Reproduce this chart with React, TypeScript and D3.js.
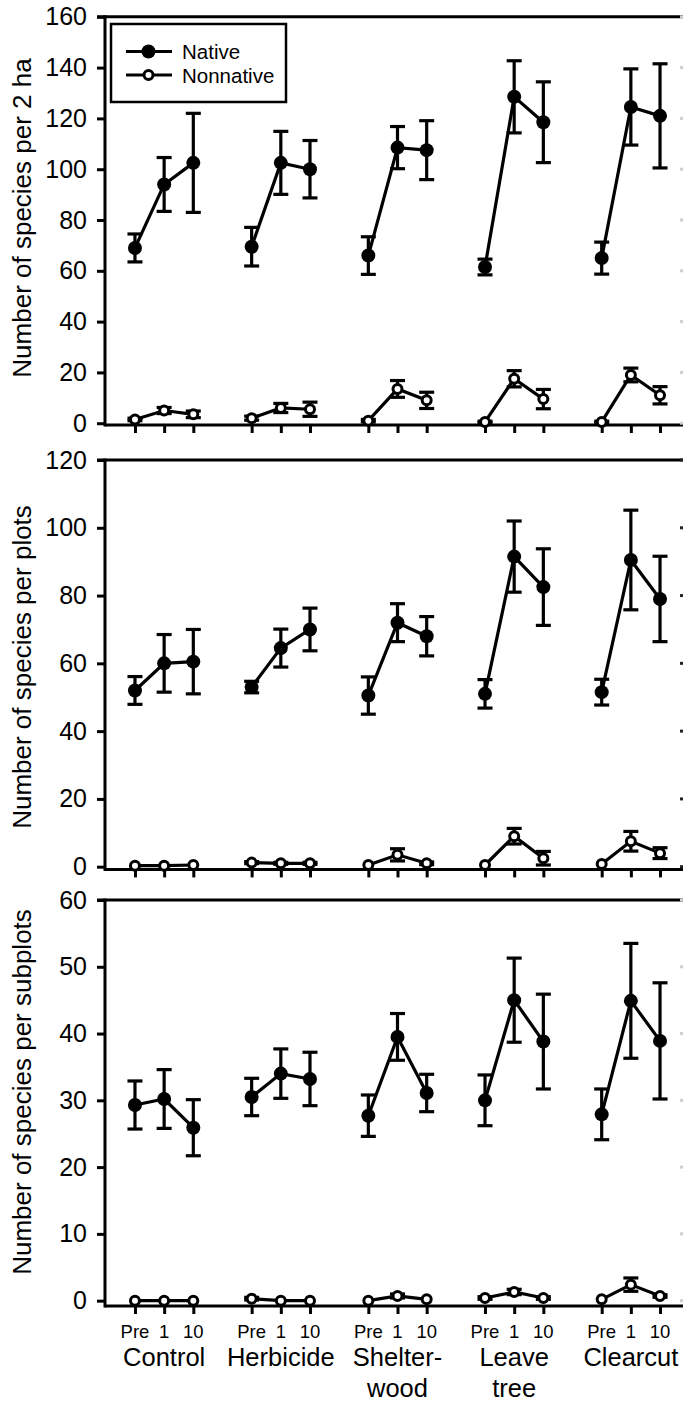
import React, { useEffect, useRef } from 'react';
import * as d3 from 'd3';

// treatments and sampling times
const groupLabels = [['Control'], ['Herbicide'], ['Shelter-', 'wood'], ['Leave', 'tree'], ['Clearcut']];
const timeLabels = ['Pre', '1', '10'];

// per 2 ha
const nativeHa = [69, 94, 102.5, 69.5, 102.5, 100, 66, 108.5, 107.5, 61.5, 128.5, 118.5, 65, 124.5, 121];
const nativeHaSe = [5.5, 10.6, 19.5, 7.6, 12.4, 11.3, 7.4, 8.3, 11.6, 3.1, 14.2, 15.9, 6.3, 15, 20.5];
const nonnativeHa = [1.5, 5, 3.5, 2, 6, 5.5, 1, 13.5, 9, 0.5, 17.5, 9.5, 0.5, 19, 11];
const nonnativeHaSe = [0.5, 1.2, 1.3, 0.8, 1.8, 2.8, 0.5, 3.3, 3.2, 0.3, 3.2, 3.8, 0.3, 2.7, 3.4];

// per plots
const nativePlot = [52, 60, 60.5, 53, 64.5, 70, 50.5, 72, 68, 51, 91.5, 82.5, 51.5, 90.5, 79];
const nativePlotSe = [4.1, 8.5, 9.5, 1.7, 5.6, 6.3, 5.5, 5.6, 5.8, 4.2, 10.5, 11.3, 3.8, 14.7, 12.6];
const nonnativePlot = [0.3, 0.3, 0.5, 1.2, 1, 1, 0.5, 3.5, 1, 0.5, 9, 2.5, 0.8, 7.5, 4];
const nonnativePlotSe = [0, 0, 0, 0.3, 0.3, 0.3, 0, 1.8, 0.4, 0, 2.3, 2, 0, 2.9, 1.6];

// per subplots
const nativeSub = [29.3, 30.2, 25.9, 30.5, 34, 33.2, 27.7, 39.5, 31.1, 30, 45, 38.8, 27.9, 44.9, 38.9];
const nativeSubSe = [3.6, 4.4, 4.2, 2.8, 3.7, 4, 3.1, 3.5, 2.8, 3.8, 6.3, 7.1, 3.8, 8.6, 8.7];
const nonnativeSub = [0, 0, 0, 0.3, 0, 0, 0, 0.7, 0.2, 0.4, 1.3, 0.4, 0.2, 2.4, 0.7];
const nonnativeSubSe = [0, 0, 0, 0.2, 0, 0, 0, 0.3, 0, 0.2, 0.4, 0.2, 0, 1, 0.2];

const ticksHa = [0, 20, 40, 60, 80, 100, 120, 140, 160];
const ticksPlot = [0, 20, 40, 60, 80, 100, 120];
const ticksSub = [0, 10, 20, 30, 40, 50, 60];

const App = () => {
    const svgRef = useRef(null);

    useEffect(() => {
        const svg = d3.select(svgRef.current);
        svg.selectAll('*').remove();

        const font = "'Liberation Sans', Arial, Helvetica, sans-serif";
        const axisX = 105;

        // slot index: 4 slots per treatment, 3 used
        const slots = d3.range(15).map(i => Math.floor(i / 3) * 4 + (i % 3));
        const x = d3.scaleLinear().domain([-1, 19]).range([105.8, 689.2]);

        const panels = [
            { top: 16.8, bottom: 425, domain: [-0.7, 160], ticks: ticksHa, title: 'Number of species per 2 ha', titleY: 218, edge: '#cfcfcf',
              native: nativeHa, nativeSe: nativeHaSe, non: nonnativeHa, nonSe: nonnativeHaSe },
            { top: 460, bottom: 869.4, domain: [-0.8, 120], ticks: ticksPlot, title: 'Number of species per plots', titleY: 667, edge: '#222',
              native: nativePlot, nativeSe: nativePlotSe, non: nonnativePlot, nonSe: nonnativePlotSe },
            { top: 900, bottom: 1306, domain: [-0.8, 60], ticks: ticksSub, title: 'Number of species per subplots', titleY: 1092, edge: '#cfcfcf',
              native: nativeSub, nativeSe: nativeSubSe, non: nonnativeSub, nonSe: nonnativeSubSe }
        ];

        panels.forEach(p => {
            const y = d3.scaleLinear().domain(p.domain).range([p.bottom, p.top]);
            const g = svg.append('g');

            // frame
            g.append('line').attr('x1', axisX - 8).attr('x2', 690).attr('y1', y(p.domain[1])).attr('y2', y(p.domain[1]))
                .attr('stroke', '#000').attr('stroke-width', 3);
            g.append('line').attr('x1', axisX).attr('x2', 690).attr('y1', p.bottom).attr('y2', p.bottom)
                .attr('stroke', '#000').attr('stroke-width', 3);
            g.append('line').attr('x1', axisX).attr('x2', axisX).attr('y1', y(p.domain[1]) - 1.5).attr('y2', p.bottom + 1.5)
                .attr('stroke', '#000').attr('stroke-width', 3);

            // y axis
            const yAxis = g.append('g').attr('transform', `translate(${axisX},0)`)
                .call(d3.axisLeft(y).tickValues(p.ticks).tickSize(8).tickPadding(10));
            yAxis.select('.domain').remove();
            yAxis.selectAll('line').attr('stroke-width', 3);
            yAxis.selectAll('text').attr('font-family', font).attr('font-size', 25).attr('fill', '#000');

            // cut-off marks at the right edge
            g.selectAll('.edge').data(p.ticks).enter().append('line')
                .attr('x1', 680).attr('x2', 684).attr('y1', d => y(d)).attr('y2', d => y(d))
                .attr('stroke', p.edge).attr('stroke-width', 3);

            // x ticks
            const xAxis = g.append('g').attr('transform', `translate(0,${p.bottom})`)
                .call(d3.axisBottom(x).tickValues(slots).tickSize(8).tickFormat(() => ''));
            xAxis.select('.domain').remove();
            xAxis.selectAll('line').attr('stroke-width', 3);

            // y title
            g.append('text')
                .attr('transform', `translate(31,${p.titleY}) rotate(-90)`)
                .attr('text-anchor', 'middle')
                .attr('font-family', font).attr('font-size', 26)
                .text(p.title);

            const series = [
                { vals: p.native, se: p.nativeSe, fill: '#000', r: 7, sw: 0 },
                { vals: p.non, se: p.nonSe, fill: '#fff', r: 4.5, sw: 3 }
            ];

            series.forEach(s => {
                const pts = s.vals.map((v, i) => ({ v, se: s.se[i], slot: slots[i], grp: Math.floor(i / 3) }));
                // error bars
                const eb = g.append('g');
                pts.filter(d => d.se > 0).forEach(d => {
                    eb.append('line').attr('x1', x(d.slot)).attr('x2', x(d.slot))
                        .attr('y1', y(d.v - d.se)).attr('y2', y(d.v + d.se)).attr('stroke', '#000').attr('stroke-width', 3.2);
                    [d.v - d.se, d.v + d.se].forEach(e => {
                        eb.append('line').attr('x1', x(d.slot) - 7.5).attr('x2', x(d.slot) + 7.5)
                            .attr('y1', y(e)).attr('y2', y(e)).attr('stroke', '#000').attr('stroke-width', 3.2);
                    });
                });
                // lines within each treatment
                const line = d3.line().x(d => x(d.slot)).y(d => y(d.v));
                d3.range(5).forEach(gi => {
                    g.append('path').datum(pts.filter(d => d.grp === gi))
                        .attr('d', line).attr('fill', 'none').attr('stroke', '#000').attr('stroke-width', 3.2);
                });
                g.selectAll(null).data(pts).enter().append('circle')
                    .attr('cx', d => x(d.slot)).attr('cy', d => y(d.v)).attr('r', s.r)
                    .attr('fill', s.fill).attr('stroke', '#000').attr('stroke-width', s.sw);
            });
        });

        // x labels under bottom panel
        const lab = svg.append('g').attr('font-family', font).attr('text-anchor', 'middle');
        slots.forEach((s, i) => {
            lab.append('text').attr('x', x(s)).attr('y', 1338).attr('font-size', 18.5).text(timeLabels[i % 3]);
        });
        groupLabels.forEach((lines, gi) => {
            lines.forEach((t, li) => {
                lab.append('text').attr('x', x(gi * 4 + 1)).attr('y', 1366 + li * 31).attr('font-size', 25.5).text(t);
            });
        });

        // legend
        const leg = svg.append('g');
        leg.append('rect').attr('x', 111).attr('y', 24).attr('width', 175).attr('height', 78)
            .attr('fill', '#fff').attr('stroke', '#000').attr('stroke-width', 2.5);
        const legItems = [
            { name: 'Native', fill: '#000', r: 7, sw: 0 },
            { name: 'Nonnative', fill: '#fff', r: 4.5, sw: 3 }
        ];
        legItems.forEach((d, i) => {
            const ly = 51.5 + i * 23.5;
            leg.append('line').attr('x1', 126).attr('x2', 172).attr('y1', ly).attr('y2', ly)
                .attr('stroke', '#000').attr('stroke-width', 3.2);
            leg.append('circle').attr('cx', 148.5).attr('cy', ly).attr('r', d.r)
                .attr('fill', d.fill).attr('stroke', '#000').attr('stroke-width', d.sw);
            leg.append('text').attr('x', 182).attr('y', ly + 7.5).attr('font-family', font).attr('font-size', 20.5).text(d.name);
        });
    }, []);

    return (
        <svg ref={svgRef} width="683" height="1405"
            style={{ position: 'absolute', left: 0, top: 0, display: 'block', background: '#fff' }}></svg>
    );
};

export default App;
